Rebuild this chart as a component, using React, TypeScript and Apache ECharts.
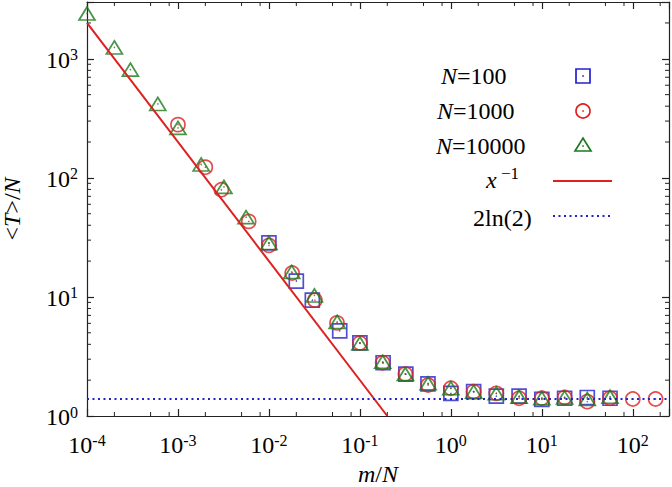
import React, { useEffect, useRef } from 'react';
import * as echarts from 'echarts';

// ---------- data ----------
const n100X = [0.01, 0.02, 0.03, 0.06, 0.1, 0.18, 0.32, 0.56, 1, 1.78, 3.16, 5.62, 10, 17.8, 31.6, 56.2];
const n100Y = [28.4, 13.6, 9.4, 5.19, 4.11, 2.8, 2.25, 1.86, 1.55, 1.6, 1.47, 1.47, 1.38, 1.41, 1.43, 1.41];

const n1000X = [0.001, 0.002, 0.003, 0.006, 0.01, 0.018, 0.032, 0.056, 0.1, 0.178, 0.316, 0.562, 1, 1.78, 3.16, 5.62, 10, 17.8, 31.6, 56.2, 100, 178];
const n1000Y = [280, 123, 79.5, 43.1, 27.1, 15.9, 9.4, 6.05, 4.1, 2.8, 2.25, 1.82, 1.71, 1.6, 1.55, 1.41, 1.41, 1.43, 1.32, 1.41, 1.39, 1.39];

const n10000X = [0.0001, 0.0002, 0.0003, 0.0006, 0.001, 0.0018, 0.0032, 0.0056, 0.01, 0.0178, 0.0316, 0.0562, 0.1, 0.178, 0.316, 0.562, 1, 1.78, 3.16, 5.62, 10, 17.8, 31.6, 56.2];
const n10000Y = [2400, 1247, 811, 418, 263, 129.5, 84, 46.8, 28.4, 16.2, 10.3, 6.17, 4.07, 2.85, 2.25, 1.88, 1.71, 1.6, 1.55, 1.45, 1.41, 1.43, 1.39, 1.45];

// reference curves (end points)
const invLine = [[0.0001, 2000], [0.2, 1]];
const lnLine = [[0.0001, 1.386], [250, 1.386]];

// axes
const X_MIN = 0.0001;
const X_MAX = 250;
const Y_MIN = 1;
const Y_MAX = 3000;
const xMinorTicks = [0.0002, 0.0005, 0.0008, 0.002, 0.005, 0.008, 0.02, 0.05, 0.08, 0.2, 0.5, 0.8, 2, 5, 8, 20, 50, 80, 200];
const yMinorTicks = [2, 3, 4, 5, 6, 7, 8, 9, 20, 30, 40, 50, 60, 70, 80, 90, 200, 300, 400, 500, 600, 700, 800, 900, 2000];

const legendLabels = ['{i|N}{n|=100}', '{i|N}{n|=1000}', '{i|N}{n|=10000}', '{i|x}{s| −1}', '{n|2ln(2)}'];

// ---------- style ----------
const FONT = 'Liberation Serif';
const BLUE = '#2222cc';
const RED = '#dd2020';
const GREEN = '#1c7a1c';
const AXIS = '#222';

const zip = (xs: number[], ys: number[]) => xs.map((x, i) => [x, ys[i]]);

const powLabel = (v: number) => {
  const e = Math.round(Math.log10(v));
  if (Math.abs(v - Math.pow(10, e)) / v > 1e-6) return '';
  return `{b|10}{s|${e < 0 ? '-' + Math.abs(e) : e}}`;
};

const xLabelRich = {
  b: { fontFamily: FONT, fontSize: 24, color: '#000', lineHeight: 26 },
  s: { fontFamily: FONT, fontSize: 16, color: '#000', verticalAlign: 'top', lineHeight: 16 },
};
const yLabelRich = {
  b: { fontFamily: FONT, fontSize: 24, color: '#000', lineHeight: 26, padding: [4, 0, 0, 0], verticalAlign: 'bottom' },
  s: { fontFamily: FONT, fontSize: 16, color: '#000', verticalAlign: 'top', lineHeight: 16, padding: [1, 0, 0, 0] },
};

const nameRich = {
  n: { fontFamily: FONT, fontSize: 24, color: '#000', lineHeight: 20 },
  i: { fontFamily: FONT, fontSize: 24, color: '#000', fontStyle: 'italic', lineHeight: 20 },
};

export default function App() {
  const ref = useRef<HTMLDivElement>(null);

  useEffect(() => {
    if (!ref.current) return;
    const chart = echarts.init(ref.current, undefined, { renderer: 'svg' });

    const hollow = (color: string) => ({ color: 'rgba(0,0,0,0)', borderColor: color, borderWidth: 1.7 });

    const legendY = [76, 111, 146, 180, 218];
    const legendX = [441, 437, 436, 486, 473];
    const legendGraphics: any[] = legendLabels.map((t, i) => ({
      type: 'text',
      x: legendX[i],
      y: legendY[i],
      style: {
        text: t,
        verticalAlign: 'middle',
        align: 'left',
        rich: {
          n: { fontFamily: FONT, fontSize: 24, fill: '#000' },
          i: { fontFamily: FONT, fontSize: 24, fill: '#000', fontStyle: 'italic' },
          s: { fontFamily: FONT, fontSize: 17, fill: '#000', verticalAlign: 'top', padding: [0, 0, 14, 0] },
        },
      },
    }));
    legendGraphics.push(
      { type: 'rect', shape: { x: 576, y: 69, width: 14, height: 14 }, style: { fill: 'none', stroke: BLUE, lineWidth: 1.7 } },
      { type: 'circle', shape: { cx: 583, cy: 111, r: 7 }, style: { fill: 'none', stroke: RED, lineWidth: 1.7 } },
      { type: 'polygon', shape: { points: [[575, 151], [591, 151], [583, 138]] }, style: { fill: 'none', stroke: GREEN, lineWidth: 1.7 } },
      { type: 'circle', shape: { cx: 583, cy: 76, r: 0.8 }, style: { fill: BLUE } },
      { type: 'circle', shape: { cx: 583, cy: 111, r: 0.8 }, style: { fill: RED } },
      { type: 'circle', shape: { cx: 583, cy: 146, r: 0.8 }, style: { fill: GREEN } },
      { type: 'line', shape: { x1: 553, y1: 181, x2: 612, y2: 181 }, style: { stroke: RED, lineWidth: 2 } },
      { type: 'line', shape: { x1: 553, y1: 216, x2: 612, y2: 216 }, style: { stroke: BLUE, lineWidth: 2, lineDash: [2, 3.5] } },
    );

    const minorX = (params: any, api: any) => {
      const p = api.coord([api.value(0), api.value(1)]);
      const cs = params.coordSys;
      const st = { stroke: AXIS, lineWidth: 1 };
      return {
        type: 'group',
        children: [
          { type: 'line', shape: { x1: p[0], y1: cs.y + cs.height, x2: p[0], y2: cs.y + cs.height - 4 }, style: st },
          { type: 'line', shape: { x1: p[0], y1: cs.y, x2: p[0], y2: cs.y + 4 }, style: st },
        ],
      };
    };
    const minorY = (params: any, api: any) => {
      const p = api.coord([api.value(0), api.value(1)]);
      const cs = params.coordSys;
      const st = { stroke: AXIS, lineWidth: 1 };
      return {
        type: 'group',
        children: [
          { type: 'line', shape: { x1: cs.x, y1: p[1], x2: cs.x + 4, y2: p[1] }, style: st },
          { type: 'line', shape: { x1: cs.x + cs.width, y1: p[1], x2: cs.x + cs.width - 4, y2: p[1] }, style: st },
        ],
      };
    };

    const axisCommon = {
      type: 'log' as const,
      logBase: 10,
      interval: 1,
      splitLine: { show: false },
      axisLine: { show: true, onZero: false, lineStyle: { color: AXIS, width: 1.2 } },
      axisTick: { show: true, inside: true, length: 7, lineStyle: { color: AXIS, width: 1.2 } },
    };

    chart.setOption({
      animation: false,
      textStyle: { fontFamily: FONT },
      grid: { left: 87, top: 2, right: 3, bottom: 71, containLabel: false, outerBoundsMode: 'none' },
      xAxis: [
        {
          ...axisCommon,
          position: 'bottom',
          min: X_MIN,
          max: X_MAX,
          axisLabel: { formatter: powLabel, rich: xLabelRich, margin: 16, fontFamily: FONT },
          name: '{i|m}{n|/}{i|N}',
          nameLocation: 'middle',
          nameGap: 46,
          nameTextStyle: { rich: nameRich, fontFamily: FONT },
        },
        {
          ...axisCommon,
          position: 'top',
          min: X_MIN,
          max: X_MAX,
          axisLabel: { show: false },
        },
      ],
      yAxis: [
        {
          ...axisCommon,
          position: 'left',
          min: Y_MIN,
          max: Y_MAX,
          axisLabel: { formatter: powLabel, rich: yLabelRich, margin: 9, fontFamily: FONT },
          name: '{n|<}{i|T}{n|>/}{i|N}',
          nameLocation: 'middle',
          nameGap: 65,
          nameRotate: 90,
          nameTextStyle: { rich: nameRich, fontFamily: FONT },
        },
        {
          ...axisCommon,
          position: 'right',
          min: Y_MIN,
          max: Y_MAX,
          axisLabel: { show: false },
        },
      ],
      graphic: legendGraphics,
      series: [
        {
          type: 'custom',
          renderItem: minorX,
          data: xMinorTicks.map((v) => [v, Y_MIN]),
          silent: true,
          clip: false,
        },
        {
          type: 'custom',
          renderItem: minorY,
          data: yMinorTicks.map((v) => [X_MIN, v]),
          silent: true,
          clip: false,
        },
        {
          type: 'line',
          name: 'x^-1',
          data: invLine,
          showSymbol: false,
          symbol: 'none',
          lineStyle: { color: RED, width: 2 },
          silent: true,
        },
        {
          type: 'line',
          name: '2ln(2)',
          data: lnLine,
          showSymbol: false,
          symbol: 'none',
          lineStyle: { color: BLUE, width: 2, type: [2, 3.5] },
          silent: true,
        },
        {
          type: 'scatter',
          name: 'N=100',
          data: zip(n100X, n100Y),
          symbol: 'rect',
          symbolSize: 14,
          itemStyle: hollow(BLUE),
        },
        {
          type: 'scatter',
          name: 'N=1000',
          data: zip(n1000X, n1000Y),
          symbol: 'circle',
          symbolSize: 14,
          itemStyle: hollow(RED),
        },
        {
          type: 'scatter',
          name: 'N=10000',
          data: zip(n10000X, n10000Y),
          symbol: 'triangle',
          symbolSize: [16, 13],
          itemStyle: hollow(GREEN),
        },
        { type: 'scatter', data: zip(n100X, n100Y), symbol: 'circle', symbolSize: 1.6, itemStyle: { color: BLUE }, silent: true },
        { type: 'scatter', data: zip(n1000X, n1000Y), symbol: 'circle', symbolSize: 1.6, itemStyle: { color: RED }, silent: true },
        { type: 'scatter', data: zip(n10000X, n10000Y), symbol: 'circle', symbolSize: 1.6, itemStyle: { color: GREEN }, silent: true },
      ],
    });

    return () => chart.dispose();
  }, []);

  return (
    <div
      ref={ref}
      style={{ position: 'fixed', left: 0, top: 0, width: 672, height: 487, background: '#fff' }}
    />
  );
}
